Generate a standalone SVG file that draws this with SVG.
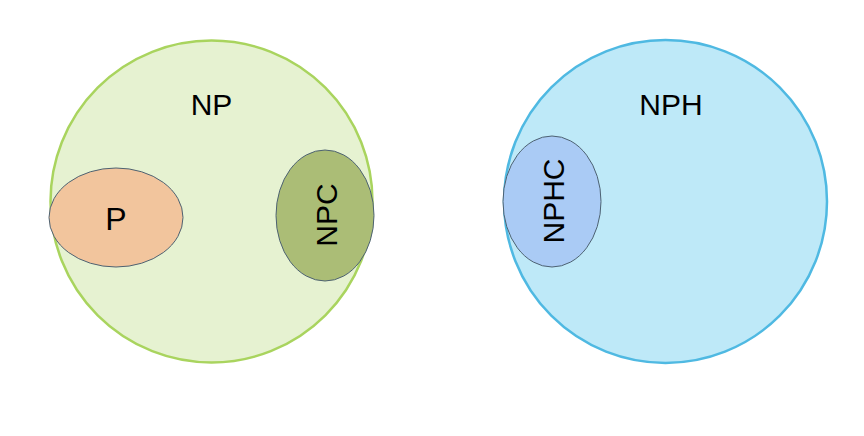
<svg xmlns="http://www.w3.org/2000/svg" width="864" height="436" viewBox="0 0 864 436">
<style>
text{font-family:"Liberation Sans",Arial,sans-serif;font-size:30px;fill:#000;text-anchor:middle}
.inner{stroke:#4d6272;stroke-width:1}
</style>
<rect width="864" height="436" fill="#fff"/>
<g id="NP">
<circle cx="211.5" cy="201.5" r="161" fill="#e6f2d1" stroke="#a9d45e" stroke-width="2.5"/>
<text x="211.5" y="115">NP</text>
</g>
<g id="P">
<ellipse cx="116" cy="217.5" rx="67" ry="49.5" fill="#f2c59d" class="inner"/>
<text x="116" y="229.5" style="font-size:32px">P</text>
</g>
<g id="NPC">
<ellipse cx="325" cy="215.5" rx="49" ry="65.5" fill="#abbd76" class="inner"/>
<text transform="translate(336.5 215) rotate(-90)">NPC</text>
</g>
<g id="NPH">
<circle cx="665.5" cy="201.5" r="161.5" fill="#bee9f8" stroke="#4fb9e2" stroke-width="2.5"/>
<text x="671" y="115">NPH</text>
</g>
<g id="NPHC">
<ellipse cx="552" cy="201.5" rx="49" ry="65.5" fill="#aacbf5" class="inner"/>
<text transform="translate(564 201) rotate(-90)">NPHC</text>
</g>
<g id="connectors"/>
</svg>
